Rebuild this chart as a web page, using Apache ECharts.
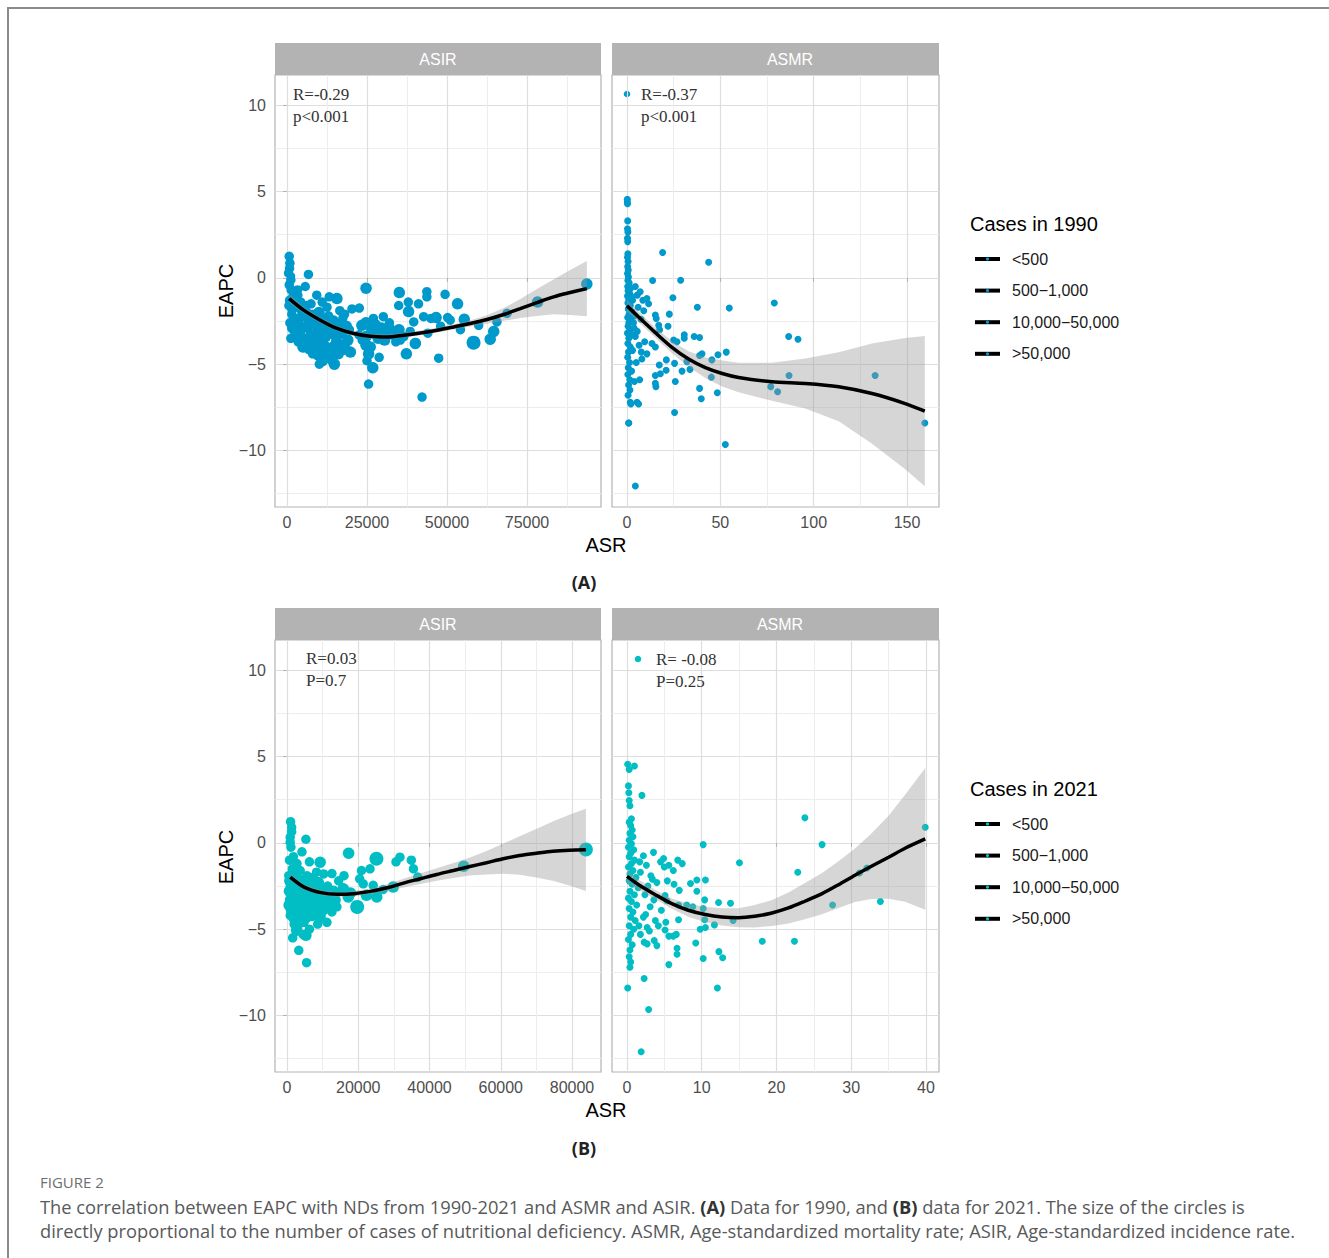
<!DOCTYPE html>
<html><head><meta charset="utf-8">
<script src="https://cdn.jsdelivr.net/npm/echarts@6/dist/echarts.min.js"></script>
<style>html,body{margin:0;padding:0;background:#fff}#c{width:1329px;height:1258px}</style>
</head><body><div id="c"></div>
<script>
// ---------- DATA ----------
const panelTitles = ['ASIR', 'ASMR'];
const legendLabels = ['<500', '500\u22121,000', '10,000\u221250,000', '>50,000'];
const yMajor = [-10, -5, 0, 5, 10];
const yMinor = [-12.5, -7.5, -2.5, 2.5, 7.5];
const xMajorA1 = [0, 25000, 50000, 75000];
const xMinorA1 = [12500, 37500, 62500, 87500];
const xMajorA2 = [0, 50, 100, 150];
const xMinorA2 = [25, 75, 125];
const xMajorB1 = [0, 20000, 40000, 60000, 80000];
const xMinorB1 = [10000, 30000, 50000, 70000];
const xMajorB2 = [0, 10, 20, 30, 40];
const xMinorB2 = [5, 15, 25, 35];

// 1990 ASIR: [ASR, EAPC, case-size class]
const pts1990ASIR = [
[700,1.25,2],[900,0.85,2],[800,0.55,2],[500,0.27,2],[1500,0.1,1],[1200,-0.12,2],[700,-0.4,2],[1300,-0.7,2],[2300,-0.9,2],[6700,0.2,2],[5700,-0.5,2],[3300,-0.7,2],[1800,-1.1,2],[800,-1.3,2],[2500,-1.3,2],[3800,-1.0,1],[4300,-1.4,2],
[600,-1.6,2],[1500,-1.8,2],[2800,-1.7,2],[4500,-1.9,2],[6000,-1.6,2],[7500,-1.5,2],[9300,-1.0,2],[13200,-1.1,2],[15600,-1.2,3],[11000,-1.4,2],[12500,-1.7,2],[10000,-2.0,3],[8000,-2.1,2],[6500,-2.3,3],[5000,-2.2,2],[3500,-2.4,3],[2000,-2.3,2],[900,-2.6,2],[1800,-2.9,3],[2800,-3.0,2],[2500,-3.3,2],[4000,-2.8,3],[5500,-2.9,2],[7000,-2.7,3],[8500,-2.6,2],[9500,-2.8,3],[11500,-2.4,3],[13000,-2.2,2],[14500,-2.5,3],[16000,-2.7,3],[17500,-2.3,2],[18500,-2.8,3],[20300,-1.8,2],[22600,-1.75,2],[19500,-3.0,2],[17000,-3.2,3],[15000,-3.3,3],[13500,-3.1,3],[12000,-3.4,3],[10500,-3.2,3],[9000,-3.5,3],[7500,-3.3,3],[6000,-3.6,3],[4500,-3.4,2],[3500,-3.7,2],[5000,-4.0,3],[7000,-4.1,3],[8500,-3.9,3],[10000,-4.2,3],[11500,-3.9,3],[13000,-4.3,3],[14500,-4.0,3],[16000,-4.4,3],[17900,-3.9,3],[19000,-3.6,3],[12000,-4.6,3],[14000,-4.7,3],[9500,-4.5,2],[11000,-4.8,3],[10100,-5.0,2],[14800,-5.0,3],[8000,-4.4,2],[6500,-3.9,2],[3000,-3.2,2],[1200,-3.5,2],[1500,-2.1,2],[2200,-2.6,2],[4200,-3.1,2],[6200,-2.0,2],[16500,-1.9,2],[18000,-2.1,2],[11800,-2.9,3],[15500,-3.7,3],[17500,-4.2,2],[19800,-4.3,3],
[24700,-0.6,3],[24700,-2.6,3],[23400,-2.75,3],[24700,-3.4,3],[24700,-3.9,3],[25500,-4.4,3],[26800,-5.2,3],[25500,-6.15,2],[27000,-2.35,2],[30100,-2.25,2],[28800,-4.6,2],[26500,-3.0,3],[28000,-3.2,3],[29500,-2.9,3],[31000,-3.1,3],[32300,-3.0,3],[33500,-3.3,3],[35000,-3.0,3],[36500,-3.4,2],[34000,-3.7,2],[30500,-3.6,3],[28500,-3.5,3],[27500,-2.7,3],[26000,-4.0,3],[25000,-4.8,2],[38500,-3.1,2],[40100,-3.8,3],[39600,-2.55,2],[35400,-3.6,2],[32000,-2.6,2],[22500,-3.3,2],[23500,-3.6,2],
[35100,-0.85,3],[38000,-1.95,3],[34900,-1.6,2],[37900,-1.4,2],[41100,-1.5,2],[43700,-0.8,2],[43700,-1.1,2],[49400,-0.95,2],[53300,-1.5,3],[42700,-2.25,2],[45000,-2.35,2],[46600,-2.3,3],[50200,-2.3,2],[51000,-2.45,2],[55400,-2.4,3],[54200,-3.0,2],[59900,-2.75,2],[65600,-2.55,2],[68750,-2.05,2],[64600,-3.1,3],[63500,-3.55,3],[58300,-3.75,4],[47400,-4.65,2],[42200,-6.9,2],[78300,-1.4,3],[93700,-0.35,3],[40300,-3.75,2],[37300,-4.4,3],[44000,-3.2,2],[48000,-2.8,2]
];
// 1990 ASMR: [ASR, EAPC]
const pts1990ASMR = [
[0.2,4.55],[0.3,4.3],[0.2,4.4],[0.4,3.3],[0.3,2.85],[0.5,2.65],[0.3,2.3],[0.4,2.1],[0.5,1.4],[0.3,1.2],[0.6,0.95],[0.4,0.65],[0.7,0.45],[0.3,0.25],[0.8,0.05],[0.5,-0.15],[1.2,-0.3],[0.4,-0.5],[2.0,-0.6],[0.6,-0.75],[1.5,-0.9],[0.3,-1.05],[2.5,-1.1],[1.0,-1.25],[0.5,-1.45],[3.0,-1.3],[1.8,-1.6],[0.7,-1.8],[2.6,-1.95],[1.2,-2.1],[0.4,-2.3],[2.2,-2.45],[1.0,-2.6],[3.5,-2.6],[0.6,-2.8],[1.6,-3.0],[0.3,-3.2],[2.8,-3.3],[1.0,-3.5],[0.5,-3.8],[1.8,-4.0],[0.8,-4.3],[0.4,-4.6],[1.4,-4.9],[0.7,-5.2],[0.5,-5.6],[1.5,-5.9],[0.9,-6.2],[1.6,-6.5],[0.6,-6.8],[1.8,-7.2],[1.0,-8.4],
[4.5,-0.5],[7.1,-0.8],[5.5,-1.0],[8.5,-1.3],[10.7,-1.2],[11.6,-1.5],[6.0,-1.7],[9.0,-1.9],[13.75,-0.15],[4.0,-2.2],[7.5,-2.4],[3.8,-2.9],[5.5,-3.1],[9.5,-3.7],[4.5,-3.4],[6.5,-3.9],[3.0,-4.2],[7.7,-4.3],[10.7,-4.4],[8.0,-4.7],[5.0,-4.9],[2.5,-5.4],[6.8,-5.9],[4.0,-6.0],[2.1,-7.3],[5.4,-7.2],[6.25,-7.3],[4.5,-12.05],
[19.1,1.47],[43.75,0.9],[28.75,-0.14],[24.6,-1.15],[37.7,-1.7],[54.8,-1.75],[78.9,-1.45],[15.2,-2.15],[15.7,-2.35],[22.7,-2.1],[17.0,-2.75],[22.0,-2.8],[17.5,-3.0],[30.7,-3.3],[30.7,-3.5],[25.0,-3.6],[26.8,-3.7],[36.0,-3.4],[38.9,-3.45],[13.4,-3.8],[15.2,-4.0],[40.2,-4.4],[38.9,-4.5],[48.75,-4.45],[53.2,-4.3],[45.5,-4.75],[32.1,-4.85],[21.1,-4.75],[25.5,-4.95],[17.3,-5.05],[29.5,-5.4],[33.75,-5.3],[21.0,-5.35],[15.2,-5.65],[17.9,-5.55],[45.2,-5.75],[86.8,-5.65],[132.9,-5.65],[86.6,-3.4],[91.6,-3.55],[25.9,-6.0],[15.2,-6.1],[15.5,-6.3],[38.9,-6.4],[39.8,-7.0],[48.4,-6.65],[77.0,-6.3],[80.7,-6.6],[25.5,-7.8],[52.7,-9.65],[159.5,-8.4],[0.9,-8.4]
];
// 2021 ASIR: [ASR, EAPC, case-size class]
const pts2021ASIR = [
[1000,1.23,2],[1300,0.9,2],[1300,0.65,2],[900,0.33,2],[900,0.04,2],[1100,-0.25,2],[5300,0.21,2],[4200,-0.52,2],[17300,-0.6,3],[25100,-0.92,4],[31700,-0.83,2],[30600,-1.1,2],[34900,-1.0,2],[35500,-1.5,2],[36700,-1.98,2],[49600,-1.35,3],[83900,-0.38,4],
[6300,-1.1,2],[9300,-1.12,3],[12600,-1.78,2],[10300,-1.8,2],[20900,-1.6,2],[23300,-1.5,2],[20400,-2.08,2],[21400,-2.37,2],[24200,-2.46,2],[15800,-2.65,3],[19700,-3.71,4],[25200,-3.13,3],[29800,-2.56,3],[22300,-3.04,3],[17200,-3.13,3],[2700,-5.06,3],[5300,-5.35,3],[3300,-6.22,2],[5500,-6.94,2],
[500,-1.9,2],[800,-2.2,3],[1200,-2.5,3],[700,-2.8,3],[1500,-3.0,3],[1000,-3.3,3],[600,-3.6,3],[1300,-3.9,3],[900,-4.2,2],[1800,-4.4,2],[2200,-2.0,3],[2500,-2.4,3],[2800,-2.8,3],[3100,-3.2,3],[2400,-3.5,3],[2900,-3.8,3],[3300,-4.1,3],[3600,-4.5,2],[2000,-4.7,2],[4000,-2.2,3],[4300,-2.6,3],[4600,-3.0,3],[4900,-3.4,3],[4200,-3.7,3],[5100,-4.0,3],[5400,-4.3,3],[4800,-4.6,2],[5800,-2.4,3],[6100,-2.8,3],[6400,-3.2,3],[6700,-3.6,3],[6000,-3.9,3],[7000,-4.2,3],[7300,-2.0,2],[7600,-2.6,3],[7900,-3.0,3],[8200,-3.4,3],[8500,-3.8,3],[7800,-4.1,3],[8800,-2.3,3],[9100,-2.7,3],[9400,-3.1,3],[9700,-3.5,3],[10000,-3.9,3],[9300,-4.3,3],[10300,-2.9,3],[10700,-3.3,3],[11000,-3.7,3],[11400,-2.5,2],[11800,-3.1,3],[12200,-3.5,3],[12600,-4.0,2],[13000,-2.8,3],[13500,-3.3,3],[14000,-3.7,2],[14500,-2.2,2],[3700,-1.6,2],[5600,-1.9,2],[8300,-1.7,2],[1500,-1.5,2],[2800,-1.2,2],[700,-1.0,2],[1800,-0.8,2],[11200,-4.6,2],[8600,-4.7,2],[6300,-5.0,2],[4500,-5.3,2],[1600,-5.5,2],[3000,-4.9,2],[17800,-2.9,3],[27000,-2.7,2],[16000,-1.9,2]
];
// 2021 ASMR: [ASR, EAPC]
const pts2021ASMR = [
[0.1,4.55],[1.0,4.45],[0.3,4.25],[0.2,3.3],[0.25,2.9],[0.3,2.45],[0.4,2.15],[2.0,2.75],[0.6,1.4],[0.3,1.2],[0.5,1.0],[0.7,0.75],[0.4,0.55],[0.8,0.35],[0.3,0.15],[0.6,-0.05],[0.2,-0.25],[0.9,-0.4],[0.5,-0.6],[0.3,-0.8],[1.0,-1.0],[0.6,-1.2],[0.2,-1.4],[0.8,-1.6],[0.4,-1.8],[1.2,-2.0],[0.3,-2.2],[0.7,-2.4],[1.5,-2.6],[0.4,-2.8],[1.0,-3.0],[0.2,-3.2],[0.6,-3.4],[1.3,-3.6],[0.3,-3.8],[0.8,-4.0],[0.5,-4.3],[1.1,-4.5],[0.3,-4.8],[0.9,-5.0],[0.5,-5.3],[0.2,-5.6],[0.7,-5.9],[0.4,-6.2],[0.3,-6.6],[0.5,-6.9],[0.4,-7.2],[0.1,-8.4],
[3.55,-0.55],[2.2,-0.75],[1.7,-1.1],[2.6,-1.3],[1.8,-1.7],[3.2,-1.9],[4.9,-0.9],[5.6,-1.3],[6.2,-1.6],[7.4,-1.2],[4.5,-1.1],[6.8,-1.0],[5.0,-1.4],[3.4,-2.1],[2.8,-2.5],[4.0,-2.3],[5.4,-2.2],[6.3,-2.4],[2.4,-3.0],[3.6,-3.3],[5.1,-3.05],[5.35,-3.35],[7.0,-2.75],[6.9,-3.6],[8.0,-3.6],[8.8,-3.7],[3.1,-3.7],[4.6,-3.9],[2.5,-4.15],[2.2,-4.3],[3.8,-4.5],[5.2,-4.6],[6.9,-4.45],[1.6,-4.8],[2.7,-4.9],[4.2,-4.8],[5.1,-5.05],[5.6,-5.4],[6.2,-5.4],[6.6,-5.3],[3.0,-5.1],[1.8,-5.3],[3.65,-5.65],[4.0,-5.95],[2.3,-5.75],[2.7,-5.85],[6.7,-6.1],[6.7,-6.45],[5.6,-7.05],[2.3,-7.85],[2.9,-9.65],[1.9,-12.1],
[8.5,-2.35],[9.35,-2.15],[10.5,-2.15],[9.35,-2.8],[10.4,-3.3],[12.25,-3.45],[13.85,-3.5],[10.2,-3.8],[10.4,-4.45],[14.2,-4.5],[11.7,-4.75],[9.8,-5.0],[10.5,-4.9],[9.2,-5.8],[10.2,-6.7],[12.3,-6.3],[12.8,-6.65],[12.1,-8.4],[10.2,-0.1],[15.05,-1.15],
[23.8,1.45],[26.1,-0.1],[39.9,0.9],[22.85,-1.7],[31.1,-1.75],[32.1,-1.45],[27.5,-3.6],[33.9,-3.4],[18.1,-5.7],[22.4,-5.7]
];

// smoothing fits and confidence bands
const fit1990ASIR_x = [700,5200,10400,15600,20800,26000,31250,36500,41700,46900,52100,57300,62500,67700,72900,78100,83300,88500,93700];
const fit1990ASIR_y = [-1.2,-1.87,-2.45,-2.93,-3.22,-3.38,-3.42,-3.32,-3.19,-3.03,-2.84,-2.64,-2.41,-2.12,-1.78,-1.43,-1.1,-0.85,-0.62];
const band1990ASIR_hi = [-0.95,-1.67,-2.29,-2.79,-3.08,-3.24,-3.28,-3.18,-3.05,-2.89,-2.69,-2.46,-2.16,-1.75,-1.23,-0.65,-0.1,0.45,0.98];
const band1990ASIR_lo = [-1.45,-2.07,-2.61,-3.07,-3.36,-3.52,-3.56,-3.46,-3.33,-3.17,-2.99,-2.82,-2.66,-2.49,-2.33,-2.21,-2.1,-2.15,-2.22];

const fit1990ASMR_x = [0,6.25,15.2,24.1,33,42,51,59.8,77.7,95.5,113.4,131.25,149,159.5];
const fit1990ASMR_y = [-1.62,-2.26,-3.17,-4.02,-4.7,-5.2,-5.54,-5.77,-6.02,-6.12,-6.31,-6.7,-7.28,-7.72];
const band1990ASMR_hi = [-1.27,-1.96,-2.87,-3.67,-4.25,-4.6,-4.79,-4.92,-4.92,-4.67,-4.31,-3.8,-3.48,-3.37];
const band1990ASMR_lo = [-1.97,-2.56,-3.47,-4.37,-5.15,-5.8,-6.29,-6.62,-7.12,-7.57,-8.31,-9.6,-11.08,-12.07];

const fit2021ASIR_x = [930,4800,9500,14100,18800,23400,28100,32700,37400,42000,46700,51350,56000,60650,65300,69950,74600,79250,83900];
const fit2021ASIR_y = [-1.98,-2.56,-2.88,-2.98,-2.94,-2.81,-2.6,-2.33,-2.08,-1.83,-1.6,-1.37,-1.15,-0.92,-0.73,-0.6,-0.48,-0.42,-0.4];
const band2021ASIR_hi = [-1.78,-2.39,-2.73,-2.83,-2.79,-2.64,-2.4,-2.08,-1.78,-1.47,-1.16,-0.85,-0.47,-0.05,0.39,0.8,1.24,1.63,1.98];
const band2021ASIR_lo = [-2.18,-2.73,-3.03,-3.13,-3.09,-2.98,-2.8,-2.58,-2.38,-2.19,-2.04,-1.89,-1.83,-1.79,-1.85,-2.0,-2.2,-2.47,-2.78];

const fit2021ASMR_x = [0,1.56,3.8,6.0,8.2,10.5,12.7,14.9,17.1,19.4,21.6,23.8,26.1,28.3,30.5,32.7,35,37.2,39.9];
const fit2021ASMR_y = [-1.94,-2.42,-3.0,-3.52,-3.9,-4.15,-4.29,-4.33,-4.25,-4.06,-3.77,-3.38,-2.94,-2.42,-1.87,-1.35,-0.83,-0.31,0.23];
const band2021ASMR_hi = [-1.59,-2.12,-2.73,-3.22,-3.52,-3.7,-3.79,-3.78,-3.6,-3.31,-2.87,-2.33,-1.74,-1.07,-0.32,0.55,1.57,2.79,4.33];
const band2021ASMR_lo = [-2.29,-2.72,-3.27,-3.82,-4.28,-4.6,-4.79,-4.88,-4.9,-4.81,-4.67,-4.43,-4.14,-3.77,-3.42,-3.25,-3.23,-3.41,-3.87];

const statText = [['R=-0.29','p<0.001'],['R=-0.37','p<0.001'],['R=0.03','P=0.7'],['R= -0.08','P=0.25']];

// ---------- STYLE / LAYOUT ----------
const BLUE = '#0099cc', TEAL = '#00bec4';
const SZ = [0, 7, 9.5, 11.5, 14];
const grids = [
  {left:275, top:75, width:326, height:432},
  {left:612, top:75, width:327, height:432},
  {left:275, top:640, width:326, height:432},
  {left:612, top:640, width:327, height:432}
];
const xRanges = [[-3750, 98125], [-8.0, 167.1], [-3370, 88140], [-2.0, 41.74]];
const xMaj = [xMajorA1, xMajorA2, xMajorB1, xMajorB2];
const xMin = [xMinorA1, xMinorA2, xMinorB1, xMinorB2];
const Y_RANGE = [-13.27, 11.75];
const lblStyle = {color:'#4d4d4d', fontSize:16, fontFamily:'Liberation Sans, Arial, sans-serif'};
const fmtY = v => v < 0 ? '\u2212' + (-v) : String(v);
const fmtX = v => String(v);

const xAxis = [], yAxis = [];
grids.forEach((g, i) => {
  xAxis.push({type:'value', gridIndex:i, position:'top', min:xRanges[i][0], max:xRanges[i][1], silent:true,
    axisLine:{show:false}, axisLabel:{show:false}, axisTick:{show:false, customValues:xMin[i]},
    splitLine:{show:true, lineStyle:{color:'#ededed', width:1}}});
  xAxis.push({type:'value', gridIndex:i, position:'bottom', min:xRanges[i][0], max:xRanges[i][1], silent:true,
    axisLine:{show:false},
    axisTick:{show:true, customValues:xMaj[i], length:4, lineStyle:{color:'#b3b3b3', width:1}},
    axisLabel:Object.assign({show:true, customValues:xMaj[i], margin:7, formatter:fmtX}, lblStyle),
    splitLine:{show:true, lineStyle:{color:'#dedede', width:1.2}}});
  const showY = (i % 2 === 0);
  yAxis.push({type:'value', gridIndex:i, position:'right', min:Y_RANGE[0], max:Y_RANGE[1], silent:true,
    axisLine:{show:false}, axisLabel:{show:false}, axisTick:{show:false, customValues:yMinor},
    splitLine:{show:true, lineStyle:{color:'#ededed', width:1}}});
  yAxis.push({type:'value', gridIndex:i, position:'left', min:Y_RANGE[0], max:Y_RANGE[1], silent:true,
    axisLine:{show:false},
    axisTick:{show:showY, customValues:yMajor, length:4, lineStyle:{color:'#b3b3b3', width:1}},
    axisLabel:Object.assign({show:showY, customValues:yMajor, margin:9, formatter:fmtY}, lblStyle),
    splitLine:{show:true, lineStyle:{color:'#dedede', width:1.2}}});
});

function scatter(gi, pts, color, fixedSize) {
  return {type:'scatter', xAxisIndex:2*gi+1, yAxisIndex:2*gi+1, silent:true, z:2,
    data: pts.map(p => p.slice()),
    symbol:'circle',
    symbolSize: fixedSize ? fixedSize : (v => SZ[v[2]]),
    itemStyle:{color:color, opacity:1, borderWidth:0}};
}
function band(gi, bx, hi, lo) {
  return {type:'custom', xAxisIndex:2*gi+1, yAxisIndex:2*gi+1, silent:true, z:3, clip:true,
    data: bx.map((x, k) => [x, hi[k], lo[k]]),
    encode:{x:0, y:[1,2]},
    renderItem:(params, api) => {
      if (params.dataIndex !== 0) return null;
      const pts = [];
      for (let k = 0; k < bx.length; k++) pts.push(api.coord([bx[k], hi[k]]));
      for (let k = bx.length - 1; k >= 0; k--) pts.push(api.coord([bx[k], lo[k]]));
      return {type:'polygon', shape:{points:pts}, style:{fill:'rgba(153,153,153,0.4)', stroke:null}};
    }};
}
function fitLine(gi, fx, fy) {
  return {type:'line', xAxisIndex:2*gi+1, yAxisIndex:2*gi+1, silent:true, z:4,
    data: fx.map((x, k) => [x, fy[k]]), smooth:0.3, symbol:'none',
    lineStyle:{color:'#000', width:3.5}};
}
function dummy(name, color) {
  return {type:'line', name:name, xAxisIndex:1, yAxisIndex:1, data:[], symbol:'circle',
    itemStyle:{color:color, borderWidth:0}, lineStyle:{color:'#000', width:4}};
}

const series = [
  scatter(0, pts1990ASIR, BLUE), band(0, fit1990ASIR_x, band1990ASIR_hi, band1990ASIR_lo), fitLine(0, fit1990ASIR_x, fit1990ASIR_y),
  scatter(1, pts1990ASMR, BLUE, 7), band(1, fit1990ASMR_x, band1990ASMR_hi, band1990ASMR_lo), fitLine(1, fit1990ASMR_x, fit1990ASMR_y),
  scatter(2, pts2021ASIR, TEAL), band(2, fit2021ASIR_x, band2021ASIR_hi, band2021ASIR_lo), fitLine(2, fit2021ASIR_x, fit2021ASIR_y),
  scatter(3, pts2021ASMR, TEAL, 7), band(3, fit2021ASMR_x, band2021ASMR_hi, band2021ASMR_lo), fitLine(3, fit2021ASMR_x, fit2021ASMR_y)
];
legendLabels.forEach(n => series.push(dummy(n + '#1990', BLUE)));
legendLabels.forEach(n => series.push(dummy(n + '#2021', TEAL)));

function legend(year, top) {
  return {orient:'vertical', left:973, top:top, padding:0, itemWidth:25, itemHeight:4, itemGap:13.6,
    selectedMode:false, data: legendLabels.map(n => n + '#' + year),
    formatter: name => name.split('#')[0],
    lineStyle:{width:4},
    textStyle:{fontSize:16, color:'#1a1a1a', fontFamily:'Liberation Sans, Arial, sans-serif', lineHeight:18, padding:[0,0,0,7]}};
}

const SANS = 'Liberation Sans, Arial, sans-serif';
function T(x, y, text, o) {
  o = o || {};
  return {type:'text', x:x, y:y, rotation:o.rotation || 0, silent:true, z:100,
    style:{text:text, fill:o.fill || '#000', fontSize:o.size || 16, fontFamily:o.family || SANS,
      fontWeight:o.weight || 'normal', align:o.align || 'left', verticalAlign:'middle',
      textAlign:o.align || 'left', textVerticalAlign:'middle', rich:o.rich}};
}
const CAP = 18.3;
const graphic = [
  {type:'polyline', silent:true, shape:{points:[[8,1258],[8,8],[1329,8]]}, style:{stroke:'#8a8a8a', lineWidth:2, fill:null}},
  {type:'rect', silent:true, shape:{x:275, y:43, width:326, height:32}, style:{fill:'#b3b3b3'}},
  {type:'rect', silent:true, shape:{x:612, y:43, width:327, height:32}, style:{fill:'#b3b3b3'}},
  {type:'rect', silent:true, shape:{x:275, y:608, width:326, height:32}, style:{fill:'#b3b3b3'}},
  {type:'rect', silent:true, shape:{x:612, y:608, width:327, height:32}, style:{fill:'#b3b3b3'}},
  T(438, 59, panelTitles[0], {fill:'#fff', align:'center'}),
  T(790, 59, panelTitles[1], {fill:'#fff', align:'center'}),
  T(438, 624, panelTitles[0], {fill:'#fff', align:'center'}),
  T(780, 624, panelTitles[1], {fill:'#fff', align:'center'}),
  T(293, 94, statText[0][0], {family:'Liberation Serif, serif', size:17, fill:'#333'}),
  T(293, 116, statText[0][1], {family:'Liberation Serif, serif', size:17, fill:'#333'}),
  {type:'circle', silent:true, shape:{cx:627, cy:94, r:3.3}, style:{fill:BLUE}},
  T(641, 94, statText[1][0], {family:'Liberation Serif, serif', size:17, fill:'#333'}),
  T(641, 116, statText[1][1], {family:'Liberation Serif, serif', size:17, fill:'#333'}),
  T(306, 658, statText[2][0], {family:'Liberation Serif, serif', size:17, fill:'#333'}),
  T(306, 680, statText[2][1], {family:'Liberation Serif, serif', size:17, fill:'#333'}),
  {type:'circle', silent:true, shape:{cx:638, cy:659, r:3.3}, style:{fill:TEAL}},
  T(656, 659, statText[3][0], {family:'Liberation Serif, serif', size:17, fill:'#333'}),
  T(656, 681, statText[3][1], {family:'Liberation Serif, serif', size:17, fill:'#333'}),
  T(226, 291, 'EAPC', {size:20, align:'center', rotation:Math.PI/2}),
  T(226, 857, 'EAPC', {size:20, align:'center', rotation:Math.PI/2}),
  T(606, 545, 'ASR', {size:20, align:'center'}),
  T(606, 1110, 'ASR', {size:20, align:'center'}),
  T(584, 582, '(A)', {size:18, align:'center', weight:'bold', family:'Open Sans, sans-serif', fill:'#222'}),
  T(584, 1148, '(B)', {size:18, align:'center', weight:'bold', family:'Open Sans, sans-serif', fill:'#222'}),
  T(970, 224, 'Cases in 1990', {size:20}),
  T(970, 789, 'Cases in 2021', {size:20}),
  T(40, 1182, 'FIGURE 2', {size:15, family:'Open Sans, sans-serif', fill:'#6d6e71'}),
  T(40, 1206, 'The correlation between EAPC with NDs from 1990-2021 and ASMR and ASIR. {b|(A)} Data for 1990, and {b|(B)} data for 2021. The size of the circles is',
    {size:CAP, family:'Open Sans, sans-serif', fill:'#58595b', rich:{b:{fontWeight:'bold', fill:'#333', fontSize:CAP, fontFamily:'Open Sans, sans-serif'}}}),
  T(40, 1230, 'directly proportional to the number of cases of nutritional deficiency. ASMR, Age-standardized mortality rate; ASIR, Age-standardized incidence rate.',
    {size:CAP, family:'Open Sans, sans-serif', fill:'#58595b'})
];

const chart = echarts.init(document.getElementById('c'), null, {renderer:'svg', width:1329, height:1258});
chart.setOption({
  backgroundColor:'#fff',
  animation:false,
  grid: grids.map(g => Object.assign({show:true, borderColor:'#b3b3b3', borderWidth:1.2, backgroundColor:'transparent', containLabel:false}, g)),
  xAxis: xAxis,
  yAxis: yAxis,
  legend: [legend('1990', 250), legend('2021', 815)],
  series: series,
  graphic: graphic
});
</script></body></html>
